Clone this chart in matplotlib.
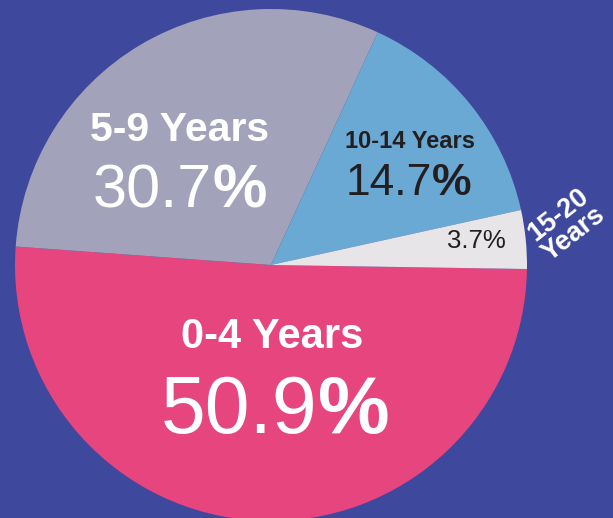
import matplotlib
matplotlib.use("Agg")
import matplotlib.pyplot as plt

# age groups and their share (percent)
groups = ["0-4 Years", "5-9 Years", "10-14 Years", "15-20 Years"]
shares = [50.9, 30.7, 14.7, 3.7]
colors = ["#E6457E", "#A2A2BA", "#6BA9D5", "#E7E5E7"]
bg = "#3E489D"
dark = "#231F20"

plt.rcParams["font.family"] = ["Liberation Sans", "DejaVu Sans"]

W, H = 613, 518
fig = plt.figure(figsize=(W / 100, H / 100), dpi=100, facecolor=bg)
ax = fig.add_axes([0, 0, 1, 1])
ax.set_facecolor(bg)

# pie centre / radius in pixel units (y measured from the bottom)
cx, cy, r = 271, H - 265, 256
ax.pie(shares, colors=colors, startangle=-0.9, counterclock=False,
       center=(cx, cy), radius=r, wedgeprops=dict(linewidth=0))
ax.set_xlim(0, W)
ax.set_ylim(0, H)
ax.set_aspect("equal")
ax.axis("off")


def y(v):
    return H - v


def pct(xsplit, ybase, value, size, color):
    # number in regular weight, the % sign in bold
    ax.text(xsplit, y(ybase), "%.1f" % value, ha="right", va="baseline",
            fontsize=size, color=color)
    ax.text(xsplit, y(ybase), "%", ha="left", va="baseline",
            fontsize=size, color=color, fontweight="bold")


# 0-4
ax.text(272, y(348), groups[0], ha="center", va="baseline", fontsize=30,
        fontweight="bold", color="white")
pct(318, 433, shares[0], 58, "white")

# 5-9
ax.text(180, y(141), groups[1], ha="center", va="baseline", fontsize=29.5,
        fontweight="bold", color="white")
pct(212, 208, shares[1], 44, "white")

# 10-14
ax.text(410, y(148), groups[2], ha="center", va="baseline", fontsize=17,
        fontweight="bold", color=dark)
pct(432, 195, shares[2], 32, dark)

# 15-20
ax.text(476, y(248), "%.1f%%" % shares[3], ha="center", va="baseline",
        fontsize=18.5, color=dark)
ax.text(566, y(225), "15-20\nYears", ha="center", va="center", rotation=38,
        rotation_mode="anchor", fontsize=19.5, fontweight="bold",
        color="white", linespacing=0.92)

fig.savefig("out.png", dpi=100, facecolor=bg)
